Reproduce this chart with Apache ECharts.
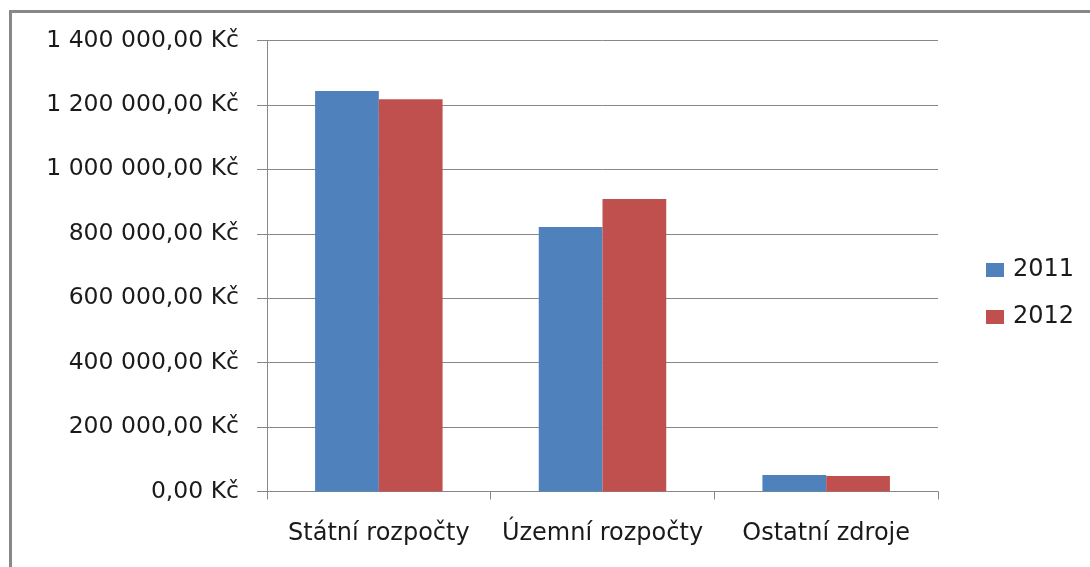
<!DOCTYPE html>
<html>
<head>
<meta charset="utf-8">
<script src="https://cdn.jsdelivr.net/npm/echarts@6/dist/echarts.min.js"></script>
<style>
  html, body { margin: 0; padding: 0; background: #fff; }
  #chart { width: 1090px; height: 567px; }
</style>
</head>
<body>
<div id="chart"></div>
<script>
  const categories = ['Státní rozpočty', 'Územní rozpočty', 'Ostatní zdroje'];
  const years = ['2011', '2012'];
  const values2011 = [1243000, 821000, 51000];
  const values2012 = [1218000, 908000, 48000];

  const font = 'DejaVu Sans';
  const textColor = '#1a1a1a';

  function formatKc(v) {
    const parts = v.toFixed(2).split('.');
    const intPart = parts[0].replace(/\B(?=(\d{3})+(?!\d))/g, ' ');
    return intPart + ',' + parts[1] + ' Kč';
  }

  const chart = echarts.init(document.getElementById('chart'));
  chart.setOption({
    backgroundColor: '#ffffff',
    animation: false,
    graphic: [{
      type: 'rect',
      shape: { x: 10.5, y: 11.5, width: 1200, height: 700 },
      style: { fill: 'none', stroke: '#888888', lineWidth: 3 },
      silent: true
    }],
    legend: {
      orient: 'vertical',
      left: 981,
      top: 253,
      itemWidth: 18,
      itemHeight: 14,
      itemGap: 23,
      icon: 'rect',
      data: years,
      textStyle: {
        fontFamily: font,
        fontSize: 24,
        color: textColor,
        padding: [0, 0, 0, 4]
      }
    },
    grid: {
      left: 267,
      right: 152,
      top: 40.5,
      bottom: 75.5
    },
    xAxis: {
      type: 'category',
      data: categories,
      axisLine: { lineStyle: { color: '#888888', width: 1 } },
      axisTick: { show: true, length: 8, interval: 0, lineStyle: { color: '#888888' } },
      axisLabel: {
        fontFamily: font,
        fontSize: 24,
        color: textColor,
        margin: 30,
        interval: 0
      }
    },
    yAxis: {
      type: 'value',
      min: 0,
      max: 1400000,
      interval: 200000,
      axisLine: { show: true, lineStyle: { color: '#888888', width: 1 } },
      axisTick: { show: true, length: 10, lineStyle: { color: '#888888' } },
      splitLine: { show: true, lineStyle: { color: '#888888', width: 1 } },
      axisLabel: {
        fontFamily: font,
        fontSize: 23.5,
        color: textColor,
        margin: 28,
        formatter: formatKc
      }
    },
    series: [{
      name: '2011',
      type: 'bar',
      data: values2011,
      itemStyle: { color: '#4F81BD' },
      barGap: '0%',
      barCategoryGap: '43%'
    }, {
      name: '2012',
      type: 'bar',
      data: values2012,
      itemStyle: { color: '#C0504D' },
      barGap: '0%',
      barCategoryGap: '43%'
    }]
  });
</script>
</body>
</html>
